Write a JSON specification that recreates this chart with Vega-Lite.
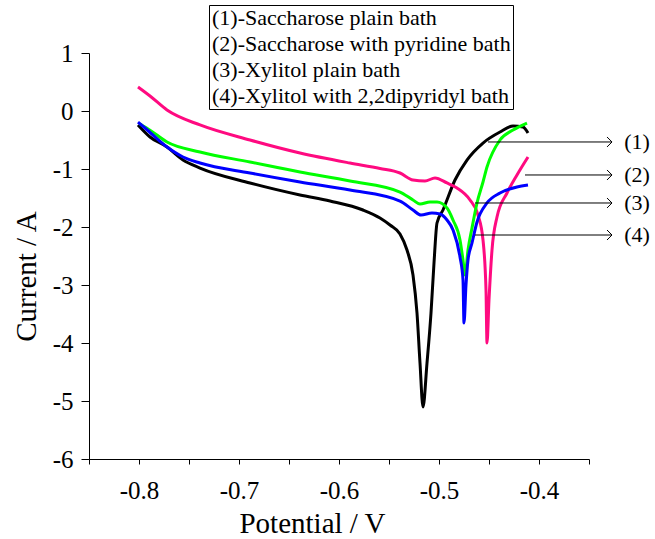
{
  "$schema": "https://vega.github.io/schema/vega-lite/v6.json",
  "width": 500,
  "height": 406,
  "autosize": {"type": "none"},
  "padding": {"left": 89, "top": 53, "right": 66, "bottom": 80},
  "config": {
    "font": "Liberation Serif",
    "view": {"stroke": null},
    "axis": {"domainColor": "black", "tickColor": "black", "labelColor": "black", "titleColor": "black", "titleFontWeight": "normal", "grid": false, "labelFont": "Liberation Serif", "titleFont": "Liberation Serif"}
  },
  "datasets": {
    "curves": [
      {"series": "(1)-Saccharose plain bath", "x": -0.801, "y": -0.241},
      {"series": "(1)-Saccharose plain bath", "x": -0.789, "y": -0.448},
      {"series": "(1)-Saccharose plain bath", "x": -0.772, "y": -0.621},
      {"series": "(1)-Saccharose plain bath", "x": -0.756, "y": -0.845},
      {"series": "(1)-Saccharose plain bath", "x": -0.739, "y": -0.983},
      {"series": "(1)-Saccharose plain bath", "x": -0.689, "y": -1.241},
      {"series": "(1)-Saccharose plain bath", "x": -0.639, "y": -1.448},
      {"series": "(1)-Saccharose plain bath", "x": -0.609, "y": -1.552},
      {"series": "(1)-Saccharose plain bath", "x": -0.576, "y": -1.707},
      {"series": "(1)-Saccharose plain bath", "x": -0.559, "y": -1.845},
      {"series": "(1)-Saccharose plain bath", "x": -0.549, "y": -1.966},
      {"series": "(1)-Saccharose plain bath", "x": -0.539, "y": -2.121},
      {"series": "(1)-Saccharose plain bath", "x": -0.532, "y": -2.397},
      {"series": "(1)-Saccharose plain bath", "x": -0.526, "y": -2.828},
      {"series": "(1)-Saccharose plain bath", "x": -0.522, "y": -3.483},
      {"series": "(1)-Saccharose plain bath", "x": -0.519, "y": -4.345},
      {"series": "(1)-Saccharose plain bath", "x": -0.516, "y": -5.103},
      {"series": "(1)-Saccharose plain bath", "x": -0.512, "y": -4.345},
      {"series": "(1)-Saccharose plain bath", "x": -0.508, "y": -3.483},
      {"series": "(1)-Saccharose plain bath", "x": -0.505, "y": -2.621},
      {"series": "(1)-Saccharose plain bath", "x": -0.502, "y": -1.931},
      {"series": "(1)-Saccharose plain bath", "x": -0.496, "y": -1.707},
      {"series": "(1)-Saccharose plain bath", "x": -0.484, "y": -1.19},
      {"series": "(1)-Saccharose plain bath", "x": -0.472, "y": -0.845},
      {"series": "(1)-Saccharose plain bath", "x": -0.456, "y": -0.552},
      {"series": "(1)-Saccharose plain bath", "x": -0.439, "y": -0.362},
      {"series": "(1)-Saccharose plain bath", "x": -0.426, "y": -0.259},
      {"series": "(1)-Saccharose plain bath", "x": -0.416, "y": -0.276},
      {"series": "(1)-Saccharose plain bath", "x": -0.411, "y": -0.379},

      {"series": "(2)-Saccharose with pyridine bath", "x": -0.801, "y": 0.414},
      {"series": "(2)-Saccharose with pyridine bath", "x": -0.789, "y": 0.259},
      {"series": "(2)-Saccharose with pyridine bath", "x": -0.772, "y": 0.017},
      {"series": "(2)-Saccharose with pyridine bath", "x": -0.739, "y": -0.241},
      {"series": "(2)-Saccharose with pyridine bath", "x": -0.689, "y": -0.5},
      {"series": "(2)-Saccharose with pyridine bath", "x": -0.639, "y": -0.724},
      {"series": "(2)-Saccharose with pyridine bath", "x": -0.589, "y": -0.897},
      {"series": "(2)-Saccharose with pyridine bath", "x": -0.559, "y": -0.99},
      {"series": "(2)-Saccharose with pyridine bath", "x": -0.539, "y": -1.069},
      {"series": "(2)-Saccharose with pyridine bath", "x": -0.526, "y": -1.19},
      {"series": "(2)-Saccharose with pyridine bath", "x": -0.514, "y": -1.207},
      {"series": "(2)-Saccharose with pyridine bath", "x": -0.504, "y": -1.155},
      {"series": "(2)-Saccharose with pyridine bath", "x": -0.492, "y": -1.241},
      {"series": "(2)-Saccharose with pyridine bath", "x": -0.482, "y": -1.328},
      {"series": "(2)-Saccharose with pyridine bath", "x": -0.469, "y": -1.534},
      {"series": "(2)-Saccharose with pyridine bath", "x": -0.461, "y": -1.793},
      {"series": "(2)-Saccharose with pyridine bath", "x": -0.456, "y": -2.224},
      {"series": "(2)-Saccharose with pyridine bath", "x": -0.453, "y": -3.086},
      {"series": "(2)-Saccharose with pyridine bath", "x": -0.452, "y": -4.0},
      {"series": "(2)-Saccharose with pyridine bath", "x": -0.45, "y": -3.259},
      {"series": "(2)-Saccharose with pyridine bath", "x": -0.447, "y": -2.397},
      {"series": "(2)-Saccharose with pyridine bath", "x": -0.442, "y": -1.828},
      {"series": "(2)-Saccharose with pyridine bath", "x": -0.432, "y": -1.414},
      {"series": "(2)-Saccharose with pyridine bath", "x": -0.422, "y": -1.103},
      {"series": "(2)-Saccharose with pyridine bath", "x": -0.411, "y": -0.793},

      {"series": "(3)-Xylitol plain bath", "x": -0.799, "y": -0.224},
      {"series": "(3)-Xylitol plain bath", "x": -0.789, "y": -0.33},
      {"series": "(3)-Xylitol plain bath", "x": -0.772, "y": -0.534},
      {"series": "(3)-Xylitol plain bath", "x": -0.739, "y": -0.707},
      {"series": "(3)-Xylitol plain bath", "x": -0.689, "y": -0.879},
      {"series": "(3)-Xylitol plain bath", "x": -0.639, "y": -1.052},
      {"series": "(3)-Xylitol plain bath", "x": -0.589, "y": -1.207},
      {"series": "(3)-Xylitol plain bath", "x": -0.539, "y": -1.397},
      {"series": "(3)-Xylitol plain bath", "x": -0.526, "y": -1.534},
      {"series": "(3)-Xylitol plain bath", "x": -0.519, "y": -1.603},
      {"series": "(3)-Xylitol plain bath", "x": -0.509, "y": -1.569},
      {"series": "(3)-Xylitol plain bath", "x": -0.502, "y": -1.569},
      {"series": "(3)-Xylitol plain bath", "x": -0.492, "y": -1.672},
      {"series": "(3)-Xylitol plain bath", "x": -0.486, "y": -1.879},
      {"series": "(3)-Xylitol plain bath", "x": -0.479, "y": -2.224},
      {"series": "(3)-Xylitol plain bath", "x": -0.476, "y": -2.569},
      {"series": "(3)-Xylitol plain bath", "x": -0.474, "y": -2.828},
      {"series": "(3)-Xylitol plain bath", "x": -0.471, "y": -2.397},
      {"series": "(3)-Xylitol plain bath", "x": -0.467, "y": -2.017},
      {"series": "(3)-Xylitol plain bath", "x": -0.462, "y": -1.586},
      {"series": "(3)-Xylitol plain bath", "x": -0.456, "y": -1.224},
      {"series": "(3)-Xylitol plain bath", "x": -0.452, "y": -0.966},
      {"series": "(3)-Xylitol plain bath", "x": -0.439, "y": -0.5},
      {"series": "(3)-Xylitol plain bath", "x": -0.426, "y": -0.328},
      {"series": "(3)-Xylitol plain bath", "x": -0.412, "y": -0.207},

      {"series": "(4)-Xylitol with 2,2dipyridyl bath", "x": -0.801, "y": -0.19},
      {"series": "(4)-Xylitol with 2,2dipyridyl bath", "x": -0.794, "y": -0.293},
      {"series": "(4)-Xylitol with 2,2dipyridyl bath", "x": -0.772, "y": -0.621},
      {"series": "(4)-Xylitol with 2,2dipyridyl bath", "x": -0.756, "y": -0.793},
      {"series": "(4)-Xylitol with 2,2dipyridyl bath", "x": -0.739, "y": -0.897},
      {"series": "(4)-Xylitol with 2,2dipyridyl bath", "x": -0.689, "y": -1.069},
      {"series": "(4)-Xylitol with 2,2dipyridyl bath", "x": -0.639, "y": -1.224},
      {"series": "(4)-Xylitol with 2,2dipyridyl bath", "x": -0.589, "y": -1.362},
      {"series": "(4)-Xylitol with 2,2dipyridyl bath", "x": -0.539, "y": -1.552},
      {"series": "(4)-Xylitol with 2,2dipyridyl bath", "x": -0.526, "y": -1.707},
      {"series": "(4)-Xylitol with 2,2dipyridyl bath", "x": -0.518, "y": -1.793},
      {"series": "(4)-Xylitol with 2,2dipyridyl bath", "x": -0.507, "y": -1.759},
      {"series": "(4)-Xylitol with 2,2dipyridyl bath", "x": -0.499, "y": -1.776},
      {"series": "(4)-Xylitol with 2,2dipyridyl bath", "x": -0.492, "y": -1.879},
      {"series": "(4)-Xylitol with 2,2dipyridyl bath", "x": -0.486, "y": -2.052},
      {"series": "(4)-Xylitol with 2,2dipyridyl bath", "x": -0.479, "y": -2.517},
      {"series": "(4)-Xylitol with 2,2dipyridyl bath", "x": -0.476, "y": -2.914},
      {"series": "(4)-Xylitol with 2,2dipyridyl bath", "x": -0.475, "y": -3.655},
      {"series": "(4)-Xylitol with 2,2dipyridyl bath", "x": -0.473, "y": -3.0},
      {"series": "(4)-Xylitol with 2,2dipyridyl bath", "x": -0.471, "y": -2.569},
      {"series": "(4)-Xylitol with 2,2dipyridyl bath", "x": -0.467, "y": -2.276},
      {"series": "(4)-Xylitol with 2,2dipyridyl bath", "x": -0.462, "y": -1.914},
      {"series": "(4)-Xylitol with 2,2dipyridyl bath", "x": -0.452, "y": -1.586},
      {"series": "(4)-Xylitol with 2,2dipyridyl bath", "x": -0.439, "y": -1.414},
      {"series": "(4)-Xylitol with 2,2dipyridyl bath", "x": -0.422, "y": -1.31},
      {"series": "(4)-Xylitol with 2,2dipyridyl bath", "x": -0.411, "y": -1.276}
    ],
    "arrows": [
      {"label": "(1)", "x0": -0.451, "y": -0.534},
      {"label": "(2)", "x0": -0.414, "y": -1.103},
      {"label": "(3)", "x0": -0.464, "y": -1.586},
      {"label": "(4)", "x0": -0.464, "y": -2.138}
    ]
  },
  "layer": [
    {
      "data": {"name": "curves"},
      "mark": {"type": "line", "strokeWidth": 3, "interpolate": "monotone"},
      "encoding": {
        "x": {
          "field": "x", "type": "quantitative",
          "scale": {"domain": [-0.85, -0.35], "nice": false, "zero": false},
          "axis": {
            "title": "Potential / V",
            "values": [-0.85, -0.8, -0.75, -0.7, -0.65, -0.6, -0.55, -0.5, -0.45, -0.4, -0.35],
            "labelExpr": "abs(round(datum.value*100)) % 10 === 0 ? (datum.value < 0 ? '-' : '') + format(abs(datum.value), '.1f') : ''",
            "labelFontSize": 25,
            "labelPadding": 14,
            "tickSize": 5,
            "labelFlush": false,
            "labelOverlap": false,
            "titleFontSize": 29,
            "titleX": 223,
            "titleY": 73,
            "titleBaseline": "alphabetic",
            "titleAlign": "center"
          }
        },
        "y": {
          "field": "y", "type": "quantitative",
          "scale": {"domain": [-6, 1], "nice": false, "zero": false},
          "axis": {
            "title": "Current / A",
            "values": [-6, -5.5, -5, -4.5, -4, -3.5, -3, -2.5, -2, -1.5, -1, -0.5, 0, 0.5, 1],
            "labelExpr": "datum.value % 1 === 0 ? (datum.value < 0 ? '-' : '') + format(abs(datum.value), 'd') : ''",
            "labelFontSize": 25,
            "labelPadding": 8,
            "tickSize": {"condition": {"test": "datum.value % 1 !== 0", "value": 4}, "value": 8},
            "labelFlush": false,
            "labelOverlap": false,
            "titleFontSize": 29,
            "titleX": -54,
            "titleY": 223,
            "titleBaseline": "alphabetic",
            "titleAlign": "center",
            "titleAngle": 270
          }
        },
        "color": {
          "field": "series", "type": "nominal",
          "scale": {
            "domain": ["(1)-Saccharose plain bath", "(2)-Saccharose with pyridine bath", "(3)-Xylitol plain bath", "(4)-Xylitol with 2,2dipyridyl bath"],
            "range": ["#000000", "#ff0a80", "#00ff00", "#0000ff"]
          },
          "legend": {
            "title": null,
            "orient": "none",
            "legendX": 120,
            "legendY": -48,
            "symbolSize": 1,
            "symbolOpacity": 0,
            "symbolStrokeWidth": 0,
            "symbolType": "circle",
            "labelOffset": -21,
            "labelFontSize": 22,
            "labelColor": "black",
            "labelLimit": 400,
            "rowPadding": 4,
            "padding": 2,
            "strokeColor": "black",
            "fillColor": "white"
          }
        }
      }
    },
    {
      "data": {"name": "arrows"},
      "mark": {"type": "rule", "color": "black", "strokeWidth": 1},
      "encoding": {
        "x": {"field": "x0", "type": "quantitative"},
        "x2": {"datum": -0.327},
        "y": {"field": "y", "type": "quantitative"}
      }
    },
    {
      "data": {"name": "arrows"},
      "mark": {"type": "point", "shape": "M-1,-1L0,0L-1,1", "filled": false, "color": "black", "strokeWidth": 1, "size": 100, "opacity": 1},
      "encoding": {
        "x": {"datum": -0.327},
        "y": {"field": "y", "type": "quantitative"}
      }
    },
    {
      "data": {"name": "arrows"},
      "mark": {"type": "text", "fontSize": 22, "align": "center", "baseline": "middle", "color": "black"},
      "encoding": {
        "x": {"datum": -0.302},
        "y": {"field": "y", "type": "quantitative"},
        "text": {"field": "label"}
      }
    }
  ]
}
